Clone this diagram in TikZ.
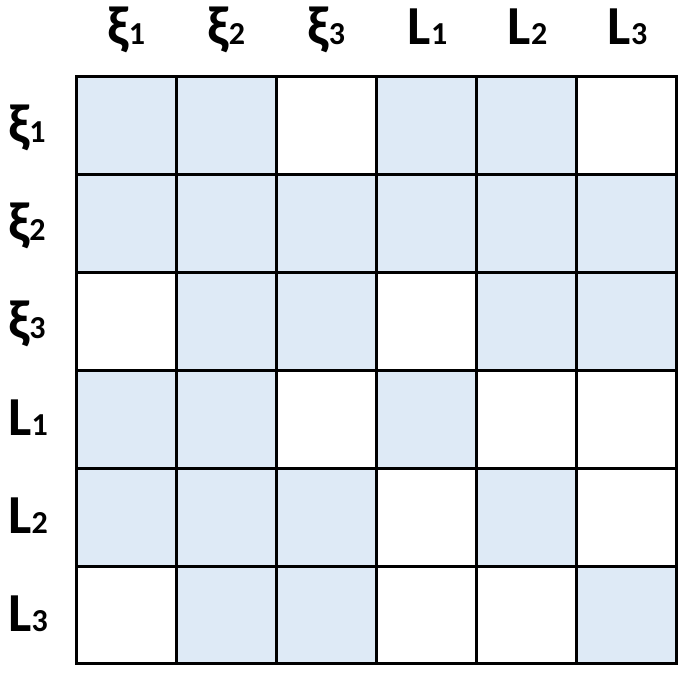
\documentclass[tikz,border=0pt]{standalone}
\usepackage{fontspec}
\setmainfont{Carlito}
\definecolor{cellblue}{HTML}{DEEAF6}
\newcommand{\lab}[2]{\textbf{\fontsize{55}{58}\selectfont #1{\fontsize{32}{34}\selectfont #2}}}
\tikzset{
  cellfill/.style={fill=cellblue, draw=none, minimum width=100pt, minimum height=98pt, inner sep=0pt, outer sep=0pt},
  gridline/.style={line width=3pt, line cap=rect},
  lbl/.style={anchor=base, inner sep=0pt}
}
\begin{document}
\begin{tikzpicture}[x=1pt,y=-1pt]
\useasboundingbox (0,0) rectangle (690,678);
\foreach \r/\row in {1/{1,1,0,1,1,0},2/{1,1,1,1,1,1},3/{0,1,1,0,1,1},4/{1,1,0,1,0,0},5/{1,1,1,0,1,0},6/{0,1,1,0,0,1}}{
  \foreach \v [count=\c] in \row {
    \ifnum\v=1
      \node[cellfill] (cell-\r-\c) at ({76.5+(\c-0.5)*100},{76.5+(\r-0.5)*97.9}) {};
    \fi
  }
}
% grid
\foreach \i in {0,...,6}{
  \draw[gridline] ({76.5+\i*100},76.5) -- ({76.5+\i*100},663.9);
  \draw[gridline] (76.5,{76.5+\i*97.9}) -- (676.5,{76.5+\i*97.9});
}
% column labels
\node[lbl] (col1) at (126.5,44.3) {\lab{ξ}{1}};
\node[lbl] (col2) at (226.5,44.3) {\lab{ξ}{2}};
\node[lbl] (col3) at (326.5,44.3) {\lab{ξ}{3}};
\node[lbl] (col4) at (427.5,44.3) {\lab{L}{1}};
\node[lbl] (col5) at (527.5,44.3) {\lab{L}{2}};
\node[lbl] (col6) at (627.5,44.3) {\lab{L}{3}};
% row labels
\node[lbl] (row1) at (27,{76.5+0.5*97.9+16.8}) {\lab{ξ}{1}};
\node[lbl] (row2) at (27,{76.5+1.5*97.9+16.8}) {\lab{ξ}{2}};
\node[lbl] (row3) at (27,{76.5+2.5*97.9+16.8}) {\lab{ξ}{3}};
\node[lbl] (row4) at (28,{76.5+3.5*97.9+16.8}) {\lab{L}{1}};
\node[lbl] (row5) at (28,{76.5+4.5*97.9+16.8}) {\lab{L}{2}};
\node[lbl] (row6) at (28,{76.5+5.5*97.9+16.8}) {\lab{L}{3}};
\end{tikzpicture}
\end{document}
